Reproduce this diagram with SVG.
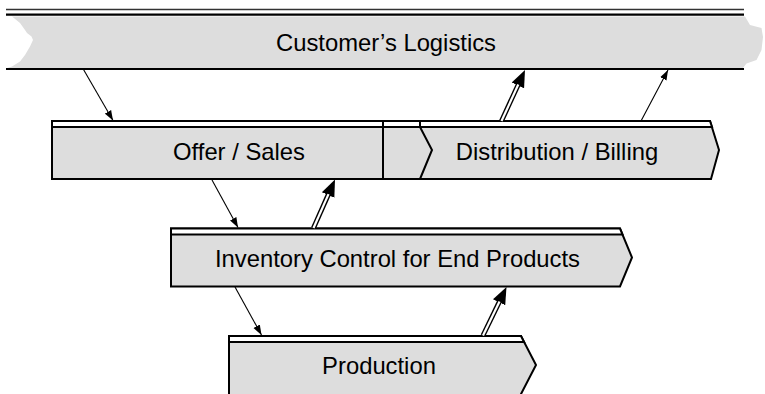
<svg xmlns="http://www.w3.org/2000/svg" width="765" height="394" viewBox="0 0 765 394">
<style>
.box{fill:#dddddd;stroke:#000;stroke-width:2;stroke-linejoin:miter}
.strip{fill:#fff;stroke:#000;stroke-width:2}
.lbl{font-family:"Liberation Sans",Arial,sans-serif;font-size:23.8px;fill:#000;text-anchor:middle}
.thin{stroke:#000;stroke-width:1.1;fill:none}
.dbl-o{stroke:#000;stroke-width:5;fill:none}
.dbl-i{stroke:#fff;stroke-width:2.2;fill:none}
</style>
<defs>
<marker id="headS" viewBox="0 -4 10 8" refX="10" refY="0" markerWidth="10" markerHeight="8" markerUnits="userSpaceOnUse" orient="auto">
<path d="M0,-3.6 L10,0 L0,3.6 Z" fill="#000"/>
</marker>
<marker id="headL" viewBox="-1 -7.5 18 15" refX="0" refY="0" markerWidth="18" markerHeight="15" markerUnits="userSpaceOnUse" orient="auto">
<path d="M-1,-6.8 L16,0 L-1,6.8 Z" fill="#000"/>
</marker>
</defs>
<g id="customers-logistics">
<path d="M12,16.5 L745,16.5 L750,25 L761.5,28 L763,37 L761.5,50 L756.5,60 L746.5,63.5 L743,68 L7,68 L12,66.5 L20,61.5 L25,55 L30,46.5 L33,40 L31.5,36.5 L27,33 L25,30 L20,23 Z" fill="#dddddd"/>
<line x1="6" y1="9.5" x2="744" y2="9.5" stroke="#333" stroke-width="1.3"/>
<line x1="6" y1="14.7" x2="744" y2="14.7" stroke="#000" stroke-width="2.2"/>
<line x1="6" y1="69" x2="744" y2="69" stroke="#000" stroke-width="2"/>
<text class="lbl" x="386" y="50.5">Customer’s Logistics</text>
</g>
<g id="distribution-billing">
<path class="box" d="M383,121 L710,121 L719,150 L711,179 L383,179 Z"/>
<path class="strip" d="M383,121 L710,121 L712,127 L383,127 Z"/>
<path d="M420,121 L420,127 L432,150 L420,179" fill="none" stroke="#000" stroke-width="2"/>
<text class="lbl" x="557" y="159.5">Distribution / Billing</text>
</g>
<g id="offer-sales">
<rect class="box" x="52" y="121" width="331" height="58"/>
<rect class="strip" x="52" y="121" width="331" height="6"/>
<text class="lbl" x="239" y="159.5">Offer / Sales</text>
</g>
<g id="inventory-control">
<path class="box" d="M171,228.5 L620,228.5 L632,257.5 L620,286.5 L171,286.5 Z"/>
<path class="strip" d="M171,228.5 L620,228.5 L622.5,234.5 L171,234.5 Z"/>
<text class="lbl" x="397.5" y="266.5">Inventory Control for End Products</text>
</g>
<g id="production">
<path class="box" d="M229,336 L521,336 L536,365 L521,394 L521,397 L229,397 Z"/>
<path class="strip" d="M229,336 L521,336 L524,342 L229,342 Z"/>
<text class="lbl" x="379" y="373.5">Production</text>
</g>
<g id="connectors">
<line class="thin" x1="83.5" y1="69.5" x2="113" y2="120.5" marker-end="url(#headS)"/>
<line class="thin" x1="212" y1="180" x2="238" y2="227.5" marker-end="url(#headS)"/>
<line class="thin" x1="641" y1="121" x2="668" y2="70" marker-end="url(#headS)"/>
<line class="thin" x1="235" y1="287" x2="261.5" y2="335" marker-end="url(#headS)"/>
<line class="dbl-o" x1="313.5" y1="228" x2="328.52" y2="194.13" marker-end="url(#headL)"/>
<line class="dbl-i" x1="313.5" y1="228" x2="328.52" y2="194.13"/>
<line class="dbl-o" x1="501.5" y1="121" x2="518.3" y2="84.53" marker-end="url(#headL)"/>
<line class="dbl-i" x1="501.5" y1="121" x2="518.3" y2="84.53"/>
<line class="dbl-o" x1="483" y1="335.5" x2="499.52" y2="301.4" marker-end="url(#headL)"/>
<line class="dbl-i" x1="483" y1="335.5" x2="499.52" y2="301.4"/>
</g>
</svg>
